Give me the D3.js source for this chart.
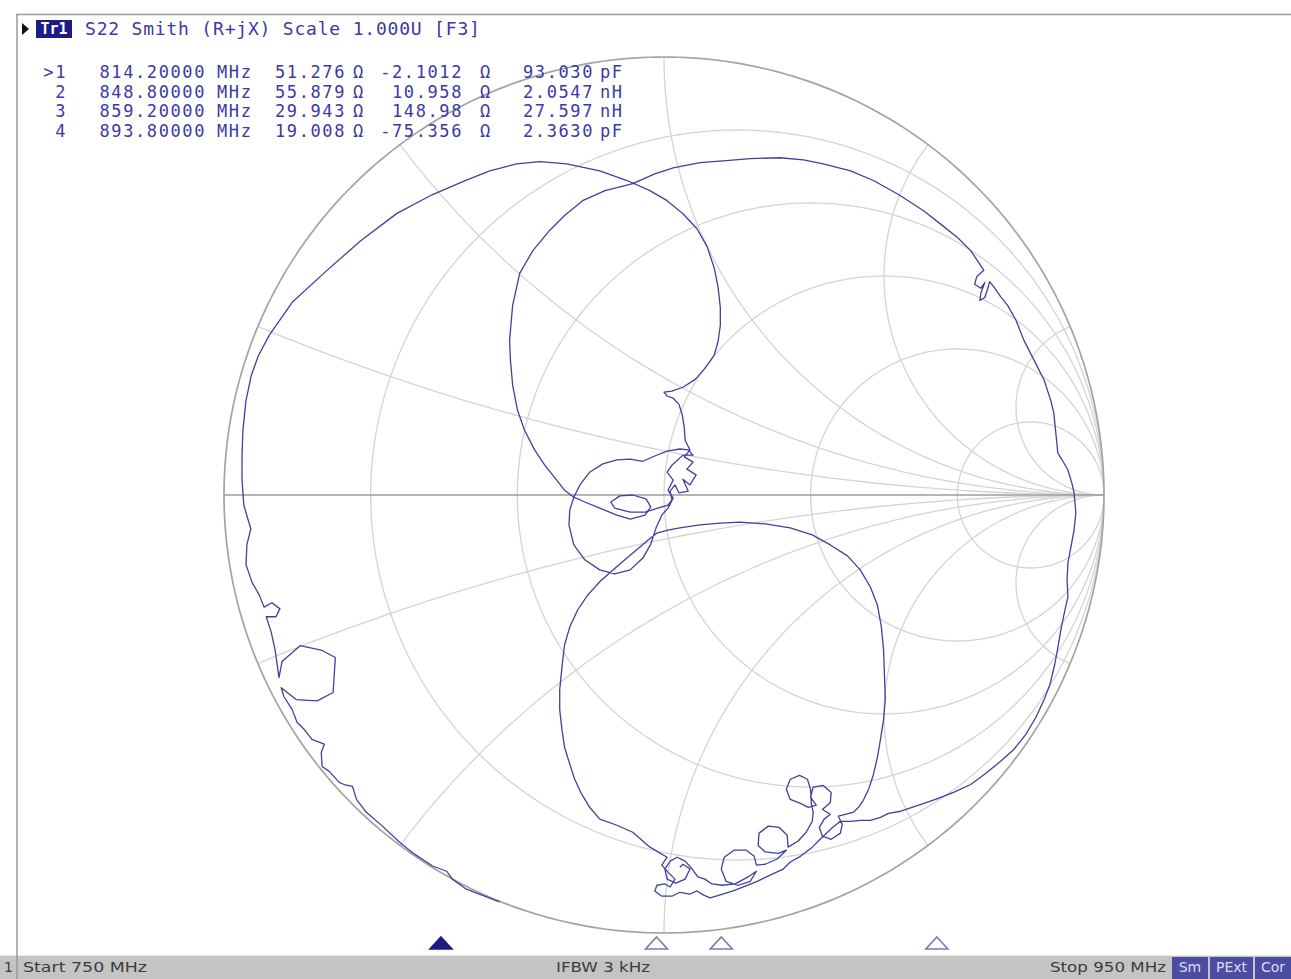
<!DOCTYPE html>
<html lang="en">
<head>
<meta charset="UTF-8">
<title>S22 Smith chart</title>
<style>
  body { margin: 0; background: #fff; }
  svg { display: block; }
</style>
</head>
<body>
<svg id="chart" width="1291" height="979"></svg>
<script src="https://d3js.org/d3.v7.min.js"></script>
<script>
// sweep
var startFreq = 750, stopFreq = 950;
var ifbw = "3 kHz";
var statusButtons = ["Sm", "PExt", "Cor"];

// markers
var markerNames = [">1", "2", "3", "4"];
var markerFreqs = [814.2, 848.8, 859.2, 893.8];
var markerRes = ["51.276", "55.879", "29.943", "19.008"];
var markerReact = ["-2.1012", "10.958", "148.98", "-75.356"];
var markerEq = ["93.030", "2.0547", "27.597", "2.3630"];
var markerEqUnit = ["pF", "nH", "nH", "pF"];
var activeMarker = 0;

// grid values (normalised)
var resistanceCircles = [0.2, 0.5, 1, 2, 5];
var reactanceArcs = [0.2, 0.5, 1, 2, 5, -0.2, -0.5, -1, -2, -5];

// trace: reflection coefficient [re, im], in sweep order
var traceEdge = [
  [-.374,-.929],[-.449,-.900],[-.481,-.877],[-.494,-.859],[-.526,-.847],[-.567,-.820],
  [-.601,-.793],[-.640,-.756],[-.677,-.724],[-.699,-.695],[-.708,-.665],[-.727,-.661],
  [-.738,-.656],[-.761,-.631],[-.777,-.620],[-.779,-.588],[-.772,-.569],[-.800,-.558],
  [-.818,-.535],[-.834,-.519],[-.845,-.490],[-.864,-.460],[-.870,-.440],[-.836,-.467],
  [-.788,-.470],[-.752,-.451],[-.747,-.371],[-.777,-.355],[-.827,-.344],[-.868,-.380],
  [-.875,-.417],[-.884,-.353],[-.893,-.312],[-.904,-.278],[-.882,-.278],[-.873,-.260],
  [-.891,-.246],[-.909,-.256],[-.920,-.228],[-.936,-.200],[-.950,-.159],[-.948,-.114],
  [-.939,-.077],[-.945,-.057],[-.955,-.023],[-.959,.034],[-.959,.091],[-.957,.148],
  [-.950,.216],[-.938,.273],[-.922,.318],[-.897,.365],[-.845,.440],[-.769,.510],
  [-.690,.580],[-.607,.643],[-.526,.686],[-.449,.719],[-.396,.740],[-.335,.756],
  [-.282,.761],[-.221,.756],[-.146,.740],[-.084,.718],[-.032,.695],[.007,.672]
];
var traceCardioid = [
  [.043,.642],[.075,.608],[.098,.567],[.114,.519],[.123,.474],[.128,.428],[.128,.387],
  [.123,.351],[.114,.319],[.093,.289],[.071,.264],[.043,.246],[.018,.237],[.000,.235],
  [.007,.226],[.021,.221],[.034,.207],[.041,.185],[.046,.155],[.048,.125]
];
var traceCenter = [
  [.059,.103],[.046,.087],[.066,.075],[.052,.059],[.073,.046],[.059,.023],[.043,.036],
  [.055,.009],[.034,.005],[.025,.023],[.014,.009],[.018,-.011],[.009,-.023],[-.014,-.030],
  [-.043,-.039],[-.077,-.039],[-.112,-.030],[-.121,-.016],[-.100,-.002],[-.071,0],
  [-.041,-.009],[-.030,-.027],[-.043,-.046],[-.077,-.055],[-.107,-.046],[-.146,-.030],
  [-.180,-.016],[-.205,-.005],[-.214,-.034],[-.216,-.068],[-.205,-.114],[-.180,-.148],
  [-.146,-.171],[-.112,-.180],[-.077,-.171],[-.048,-.144],[-.030,-.112],[-.018,-.075],
  [-.005,-.046],[.009,-.030],[.021,-.007],[.009,.011],[.021,.034],[.007,.052],[.018,.068],
  [.043,.091],[.066,.091],[.055,.103],[.036,.105],[.007,.100],[-.021,.089],[-.048,.077],
  [-.077,.082],[-.107,.080],[-.139,.071],[-.169,.052],[-.191,.023],[-.205,-.005]
];
var traceLoopB = [
  [-.226,.011],[-.248,.039],[-.271,.068],[-.294,.103],[-.317,.148],[-.333,.194],
  [-.344,.251],[-.349,.308],[-.351,.353],[-.344,.433],[-.328,.506],[-.298,.558],
  [-.260,.604],[-.226,.638],[-.185,.672],[-.134,.695],[-.071,.711],[-.021,.733],
  [.021,.747],[.082,.759],[.134,.763],[.196,.768],[.264,.770],[.317,.765],[.362,.756],
  [.424,.740],[.476,.718],[.533,.686],[.590,.649],[.633,.615],[.667,.588],[.697,.558],
  [.715,.531],[.727,.513],[.711,.499],[.706,.481],[.720,.472],[.729,.485],[.720,.460],
  [.718,.444],[.729,.451],[.736,.472],[.740,.487],[.752,.472],[.765,.453],[.781,.433],
  [.800,.399],[.818,.353],[.841,.308],[.864,.262],[.879,.216],[.886,.187],[.891,.137],
  [.895,.096],[.909,.073],[.918,.057],[.927,.027],[.932,.005],[.936,-.041],[.932,-.080],
  [.925,-.118],[.918,-.155],[.916,-.194],[.918,-.232],[.909,-.273],[.902,-.308],
  [.895,-.349],[.888,-.387],[.877,-.433],[.864,-.467],[.845,-.508],[.822,-.547],
  [.795,-.581],[.765,-.608],[.731,-.636],[.697,-.661],[.658,-.679],[.617,-.695],
  [.579,-.708],[.538,-.722],[.510,-.727],[.492,-.736],[.469,-.743],[.446,-.743],[.424,-.745]
];
var traceBottom1 = [
  [.401,-.745],[.383,-.759],[.360,-.781],[.337,-.804],[.310,-.825],[.287,-.838],
  [.271,-.854],[.241,-.868],[.212,-.882],[.185,-.893],[.157,-.904],[.128,-.913],
  [.105,-.920],[.089,-.913],[.075,-.904],[.059,-.911],[.036,-.907],[.018,-.916],
  [-.005,-.916],[-.021,-.904],[-.016,-.891],[.002,-.888],[.014,-.895],[.025,-.877],
  [.009,-.861],[-.005,-.845],[.007,-.827]
];
var traceLowerLoop = [
  [-.032,-.804],[-.071,-.770],[-.107,-.754],[-.146,-.740],[-.169,-.713],[-.187,-.683],
  [-.203,-.649],[-.214,-.615],[-.226,-.576],[-.232,-.535],[-.237,-.490],[-.237,-.444],
  [-.232,-.394],[-.226,-.342],[-.214,-.301],[-.196,-.262],[-.173,-.228],[-.146,-.198],
  [-.118,-.173],[-.089,-.148],[-.062,-.125],[-.036,-.103],[-.016,-.087],[.009,-.080],
  [.036,-.075],[.082,-.068],[.128,-.064],[.173,-.062],[.230,-.066],[.287,-.075],
  [.337,-.091],[.378,-.114],[.417,-.139],[.446,-.171],[.469,-.210],[.485,-.251],
  [.494,-.301],[.499,-.353],[.501,-.410],[.503,-.467],[.499,-.513],[.492,-.558],
  [.485,-.599],[.476,-.638],[.465,-.672],[.453,-.697],[.442,-.713],[.431,-.724]
];
var traceBottom2 = [
  [.412,-.729],[.396,-.733],[.405,-.752],[.401,-.772],[.380,-.786],[.360,-.779],
  [.353,-.759],[.364,-.740],[.378,-.729],[.360,-.718],[.378,-.702],[.380,-.679],
  [.362,-.663],[.339,-.667],[.333,-.690],[.346,-.708],[.328,-.713],[.310,-.704],
  [.287,-.695],[.278,-.672],[.287,-.649],[.308,-.640],[.326,-.649],[.333,-.672],
  [.335,-.706],[.339,-.724],[.337,-.745],[.323,-.770],[.305,-.790],[.282,-.804],
  [.280,-.777],[.262,-.759],[.237,-.756],[.216,-.772],[.214,-.800],[.230,-.815],
  [.260,-.818],[.278,-.811],[.257,-.831],[.230,-.843],[.210,-.845],[.205,-.825],
  [.187,-.811],[.159,-.811],[.137,-.827],[.130,-.854],[.141,-.882],[.169,-.891],
  [.196,-.882],[.210,-.859],[.191,-.872],[.162,-.888],[.132,-.891],[.109,-.888],
  [.093,-.877],[.077,-.872],[.064,-.854],[.048,-.836],[.030,-.827],[.014,-.836],
  [.002,-.854],[.007,-.877],[.027,-.886],[.048,-.877],[.059,-.854],[.043,-.843],[.036,-.850]
];

var trace = [].concat(traceEdge, traceCardioid, traceCenter, traceLoopB,
  traceBottom1, traceLowerLoop, traceBottom2);

var svg = d3.select("#chart");

// scales: reflection coefficient plane -> screen
var x = d3.scaleLinear().domain([-1, 1]).range([224, 1104]);
var y = d3.scaleLinear().domain([-1, 1]).range([933, 57]);
var fx = d3.scaleLinear().domain([startFreq, stopFreq]).range([41, 1287]);

var line = d3.line().x(d => x(d[0])).y(d => y(d[1]));

function circlePts(cxg, cyg, rg) {
  var pts = [];
  for (var i = 0; i <= 360; i++) {
    var t = i * Math.PI / 180;
    pts.push([cxg + rg * Math.cos(t), cyg + rg * Math.sin(t)]);
  }
  return pts;
}

svg.append("defs").append("clipPath").attr("id", "unit")
  .append("path").attr("d", line(circlePts(0, 0, 1)));

// grid
var grid = svg.append("g").attr("clip-path", "url(#unit)")
  .attr("fill", "none").attr("stroke", "#d4d4d4").attr("stroke-width", 1.3);

grid.selectAll("path.r").data(resistanceCircles).enter().append("path")
  .attr("class", "r")
  .attr("d", r => line(circlePts(r / (r + 1), 0, 1 / (r + 1))));

grid.selectAll("path.xarc").data(reactanceArcs).enter().append("path")
  .attr("class", "xarc")
  .attr("d", v => line(circlePts(1, 1 / v, Math.abs(1 / v))));

svg.append("path").attr("d", line(circlePts(0, 0, 1)))
  .attr("fill", "none").attr("stroke", "#a3a3a3").attr("stroke-width", 1.7);
svg.append("line").attr("x1", x(-1)).attr("x2", x(1)).attr("y1", y(0)).attr("y2", y(0))
  .attr("stroke", "#9c9c9c").attr("stroke-width", 1.7);

// trace
svg.append("path").datum(trace)
  .attr("d", line)
  .attr("fill", "none")
  .attr("stroke", "#40409e")
  .attr("stroke-width", 1.3)
  .attr("stroke-linejoin", "round");

// header
var mono = "'DejaVu Sans Mono', 'Liberation Mono', monospace";
var textBlue = "#3a3aa6";
svg.append("path").attr("d", "M22,23 L29,29 L22,35 Z").attr("fill", "#111");
svg.append("rect").attr("x", 36).attr("y", 20).attr("width", 36).attr("height", 18)
  .attr("fill", "#1c1c86");
svg.append("text").attr("x", 54).attr("y", 34).attr("text-anchor", "middle")
  .attr("font-family", mono).attr("font-size", 15).attr("font-weight", "bold")
  .attr("fill", "#fff").text("Tr1");
svg.append("text").attr("x", 85).attr("y", 35)
  .attr("font-family", mono).attr("font-size", 18).attr("letter-spacing", 0.8)
  .attr("fill", textBlue).text("S22 Smith (R+jX) Scale 1.000U [F3]");

var fmtF = d3.format(".5f");
var rows = svg.append("g").attr("font-family", mono).attr("font-size", 17)
  .attr("letter-spacing", 1.6).attr("fill", textBlue);
markerNames.forEach(function(n, i) {
  var by = 78 + i * 19.5;
  var cols = [
    [67, n, "end"], [206, fmtF(markerFreqs[i]), "end"], [217, "MHz", "start"],
    [346, markerRes[i], "end"], [353, "\u03a9", "start"],
    [463, markerReact[i], "end"], [480, "\u03a9", "start"],
    [594, markerEq[i], "end"], [600, markerEqUnit[i], "start"]
  ];
  cols.forEach(function(c) {
    rows.append("text").attr("x", c[0]).attr("y", by).attr("text-anchor", c[2]).text(c[1]);
  });
});

// marker triangles on the frequency axis
svg.selectAll("path.mk").data(markerFreqs).enter().append("path")
  .attr("class", "mk")
  .attr("d", f => "M" + fx(f) + ",937 L" + (fx(f) + 11) + ",949 L" + (fx(f) - 11) + ",949 Z")
  .attr("fill", (f, i) => i === activeMarker ? "#1c1c86" : "#fff")
  .attr("stroke", (f, i) => i === activeMarker ? "#1c1c86" : "#7a7ab0")
  .attr("stroke-width", 1.6);

// status bar
svg.append("rect").attr("x", 0).attr("y", 955).attr("width", 1291).attr("height", 24)
  .attr("fill", "#c4c4c4");
svg.append("line").attr("x1", 0).attr("x2", 1291).attr("y1", 955.5).attr("y2", 955.5)
  .attr("stroke", "#e6e6e6");
var sans = "'DejaVu Sans', 'Liberation Sans', sans-serif";
var statusBar = svg.append("g").attr("font-family", sans).attr("font-size", 14).attr("fill", "#3c3c3c");
statusBar.append("text").attr("x", 4).attr("y", 972).text("1");
statusBar.append("text").attr("x", 23).attr("y", 972).attr("textLength", 124)
  .attr("lengthAdjust", "spacingAndGlyphs").text("Start " + startFreq + " MHz");
statusBar.append("text").attr("x", 556).attr("y", 972).attr("textLength", 94)
  .attr("lengthAdjust", "spacingAndGlyphs").text("IFBW " + ifbw);
statusBar.append("text").attr("x", 1050).attr("y", 972).attr("textLength", 116)
  .attr("lengthAdjust", "spacingAndGlyphs").text("Stop " + stopFreq + " MHz");
var btnX = [1172, 1210, 1255], btnW = [36, 43, 36];
statusButtons.forEach(function(b, i) {
  svg.append("rect").attr("x", btnX[i]).attr("y", 957).attr("width", btnW[i]).attr("height", 22)
    .attr("fill", "#4c4ca2");
  svg.append("text").attr("x", btnX[i] + btnW[i] / 2).attr("y", 972).attr("text-anchor", "middle")
    .attr("font-family", sans).attr("font-size", 14).attr("fill", "#dcdcf2").text(b);
});

// frame
svg.append("line").attr("x1", 16).attr("x2", 1291).attr("y1", 14.5).attr("y2", 14.5)
  .attr("stroke", "#9a9a9a").attr("stroke-width", 1.5);
svg.append("line").attr("x1", 17).attr("x2", 17).attr("y1", 14).attr("y2", 979)
  .attr("stroke", "#9a9a9a").attr("stroke-width", 1.5);
</script>
</body>
</html>
